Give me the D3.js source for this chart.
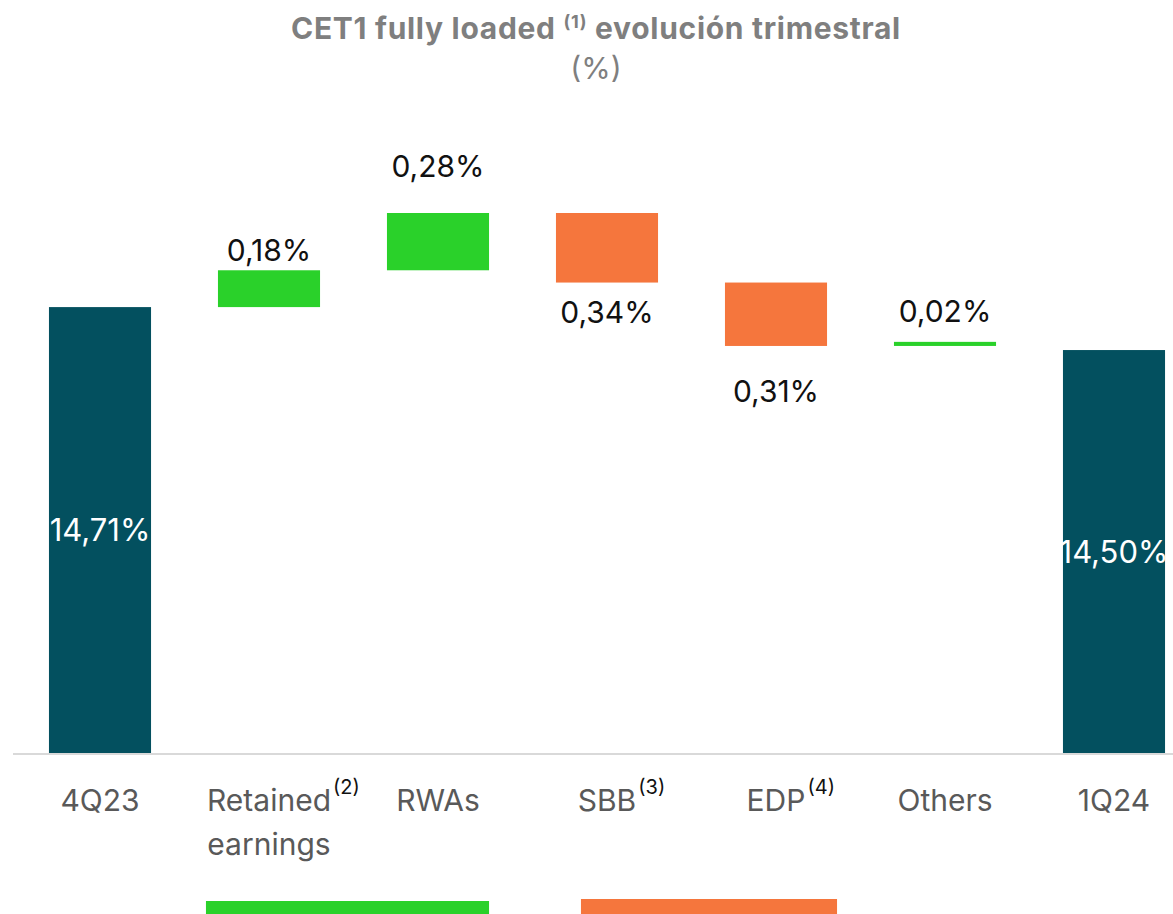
<!DOCTYPE html>
<html>
<head>
<meta charset="utf-8">
<script src="https://cdn.jsdelivr.net/npm/d3@7"></script>
<style>
  body{margin:0;background:#fff;}
  #chart text{font-family:Inter, "Noto Sans", sans-serif;}
</style>
</head>
<body>
<div id="chart"></div>
<script>
// data
const categories = ["4Q23", "Retained earnings", "RWAs", "SBB", "EDP", "Others", "1Q24"];
const values = [14.71, 0.18, 0.28, -0.34, -0.31, 0.02, 14.50];
const kinds = ["total", "delta", "delta", "delta", "delta", "delta", "total"];
const notes = ["", "(2)", "", "(3)", "(4)", "", ""];
const valueLabels = ["14,71%", "0,18%", "0,28%", "0,34%", "0,31%", "0,02%", "14,50%"];

// label gap from bar end (layout only)
var labelGap = [0, 9, 36, 40, 56, 20, 0];

var w = 1173, h = 914;
var base = 753;

var svg = d3.select("#chart").append("svg")
  .attr("width", w).attr("height", h);

// running totals for the waterfall
var rows = [];
var run = 0;
categories.forEach(function(c, i){
  var v = values[i];
  if(kinds[i] == "total"){
    rows.push({cat:c, y0:12.53, y1:v, v:v, kind:"total", i:i});
    run = v;
  } else {
    rows.push({cat:c, y0:run, y1:run+v, v:v, kind:"delta", i:i});
    run = run + v;
  }
});

var x = d3.scaleBand().domain(categories).range([15.5, 1198.5]).paddingInner(0.396).paddingOuter(0.198);
var y = d3.scaleLinear().domain([12.53, 15.17]).range([base, 213]);

var color = function(d){
  if(d.kind == "total") return "#03505f";
  return d.v >= 0 ? "#2ad12a" : "#f5763d";
};

// title
var title = svg.append("text").attr("x", 596).attr("y", 39)
  .attr("text-anchor", "middle").style("fill", "#7f7f7f")
  .style("font-size", "30px").style("font-weight", "700").style("letter-spacing", "0.7px");
title.append("tspan").text("CET1 fully loaded ");
title.append("tspan").text("(1)").attr("dy", -11).style("font-size", "18px");
title.append("tspan").text(" evolución trimestral").attr("dy", 11);
svg.append("text").attr("x", 596).attr("y", 79).attr("text-anchor", "middle")
  .style("fill", "#7f7f7f").style("font-size", "30px").text("(%)");

// baseline
svg.append("line").attr("x1", 13).attr("x2", w).attr("y1", base + 1).attr("y2", base + 1)
  .attr("stroke", "#d9d9d9").attr("stroke-width", 2);

// bars
svg.selectAll(".bar").data(rows).enter().append("rect")
  .attr("class", "bar")
  .attr("x", d => x(d.cat))
  .attr("width", x.bandwidth())
  .attr("y", d => y(Math.max(d.y0, d.y1)))
  .attr("height", d => Math.max(3, Math.abs(y(d.y0) - y(d.y1))))
  .attr("fill", color);

// value labels
svg.selectAll(".val").data(rows).enter().append("text")
  .attr("class", "val")
  .attr("x", d => x(d.cat) + x.bandwidth() / 2)
  .attr("y", function(d){
    if(d.kind == "total") return (y(d.y1) + base) / 2 + 11;
    if(d.v >= 0) return y(d.y1) - labelGap[d.i];
    return y(d.y1) + labelGap[d.i];
  })
  .attr("text-anchor", "middle")
  .style("font-size", d => d.kind == "total" ? "31px" : "30px")
  .style("fill", d => d.kind == "total" ? "#ffffff" : "#111111")
  .text(d => valueLabels[d.i]);

// category labels
var catG = svg.selectAll(".cat").data(rows).enter().append("g").attr("class", "cat");
catG.each(function(d){
  var g = d3.select(this);
  var cx = x(d.cat) + x.bandwidth() / 2;
  var words = d.cat == "Retained earnings" ? ["Retained", "earnings"] : [d.cat];
  var t = g.append("text").attr("x", cx).attr("y", 811)
    .attr("text-anchor", "middle").style("font-size", "30px").style("fill", "#595959")
    .text(words[0]);
  if(words[1]){
    g.append("text").attr("x", cx).attr("y", 855)
      .attr("text-anchor", "middle").style("font-size", "30px").style("fill", "#595959")
      .text(words[1]);
  }
  if(notes[d.i]){
    var tw = t.node().getComputedTextLength();
    g.append("text").attr("x", cx + tw / 2 + 2).attr("y", 794)
      .style("font-size", "20px").style("fill", "#111111").text(notes[d.i]);
  }
});

// bottom brackets, cut by the frame
var brackets = [
  {from:"Retained earnings", to:"RWAs", c:"#2ad12a", dx0:-12, dx1:0, top:901},
  {from:"SBB", to:"EDP", c:"#f5763d", dx0:25, dx1:10, top:899}
];
svg.selectAll(".brk").data(brackets).enter().append("rect")
  .attr("x", d => x(d.from) + d.dx0)
  .attr("width", d => x(d.to) + x.bandwidth() + d.dx1 - x(d.from) - d.dx0)
  .attr("y", d => d.top)
  .attr("height", 20)
  .attr("fill", d => d.c);
</script>
</body>
</html>
